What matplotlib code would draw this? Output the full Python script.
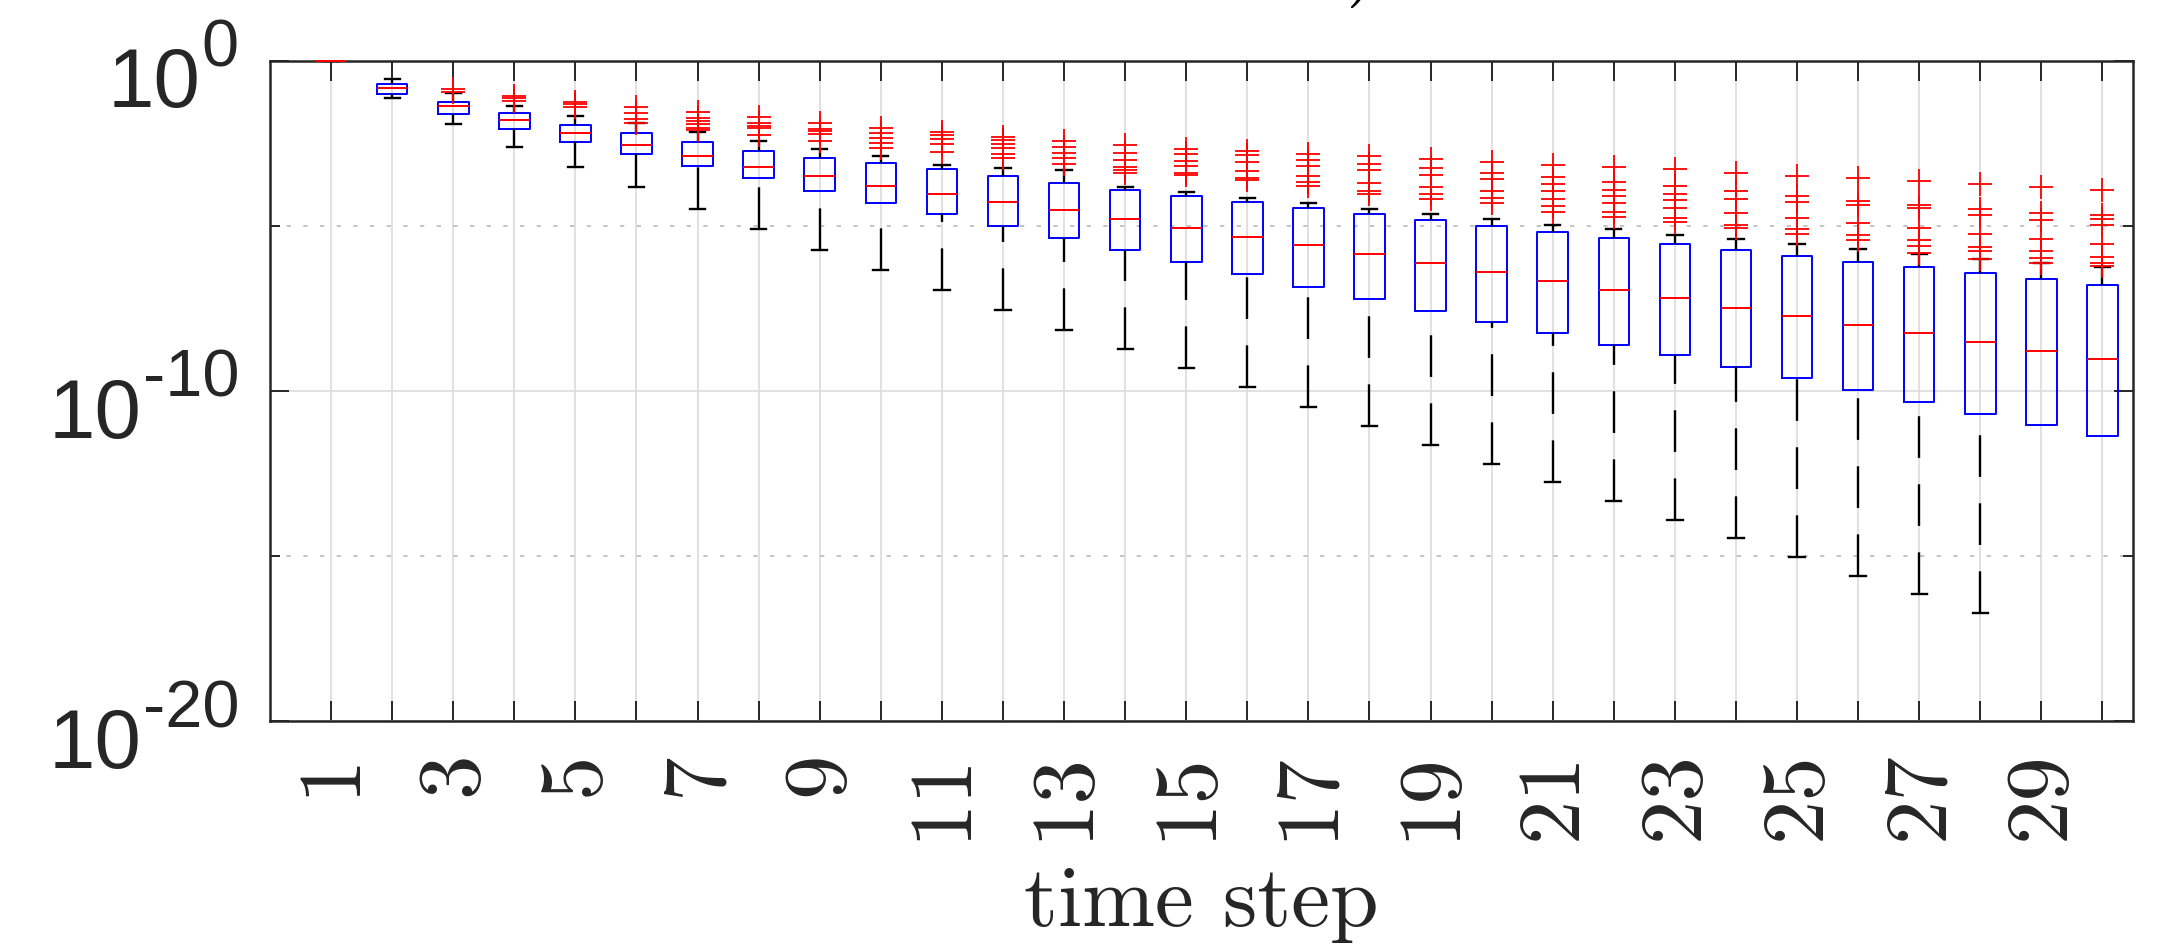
import numpy as np
import matplotlib
matplotlib.use('Agg')
import matplotlib.pyplot as plt
from matplotlib.ticker import FixedLocator, FixedFormatter, NullFormatter
from matplotlib.transforms import offset_copy

plt.rcParams['lines.scale_dashes'] = False

# time steps and box statistics, stored as log10 of the value
steps = list(range(1, 31))
whishi_exp = [0, -0.56, -0.98, -1.39, -1.69, -1.90, -2.18, -2.44, -2.68, -2.90,
              -3.16, -3.24, -3.33, -3.84, -3.99, -4.17, -4.33, -4.50, -4.66, -4.81,
              -4.97, -5.11, -5.27, -5.42, -5.56, -5.70, -5.85, -6.00, -6.14, -6.26]
q3_exp = [0, -0.71, -1.25, -1.60, -1.94, -2.19, -2.48, -2.73, -2.94, -3.11,
          -3.30, -3.51, -3.71, -3.92, -4.10, -4.28, -4.46, -4.64, -4.83, -5.01,
          -5.19, -5.38, -5.56, -5.73, -5.91, -6.10, -6.26, -6.44, -6.62, -6.79]
med_exp = [0, -0.83, -1.38, -1.81, -2.20, -2.56, -2.90, -3.21, -3.51, -3.79,
           -4.05, -4.29, -4.54, -4.80, -5.06, -5.34, -5.60, -5.85, -6.14, -6.41,
           -6.68, -6.94, -7.20, -7.48, -7.74, -8.00, -8.26, -8.52, -8.79, -9.05]
q1_exp = [0, -1.00, -1.63, -2.07, -2.48, -2.83, -3.19, -3.57, -3.95, -4.31,
          -4.66, -5.01, -5.38, -5.73, -6.10, -6.47, -6.85, -7.21, -7.58, -7.92,
          -8.26, -8.60, -8.93, -9.27, -9.61, -9.98, -10.33, -10.69, -11.04, -11.38]
# nan: lowest value is zero, no lower whisker on the log axis
whislo_exp = [0, -1.15, -1.93, -2.61, -3.23, -3.84, -4.49, -5.10, -5.74, -6.35,
              -6.95, -7.55, -8.16, -8.73, -9.32, -9.90, -10.49, -11.07, -11.63, -12.21,
              -12.77, -13.35, -13.90, -14.47, -15.03, -15.61, -16.16, -16.72, np.nan, np.nan]
fliers_exp = [
    [],
    [],
    [-0.85, -0.95],
    [-1.08, -1.15, -1.23],
    [-1.25, -1.32, -1.42],
    [-1.40, -1.60, -1.77, -1.88],
    [-1.57, -1.74, -1.84, -1.93, -2.03, -2.11],
    [-1.72, -1.90, -1.98, -2.05, -2.27],
    [-1.88, -2.07, -2.14, -2.24, -2.44],
    [-2.03, -2.20, -2.36, -2.50, -2.64],
    [-2.16, -2.27, -2.37, -2.52, -2.78],
    [-2.31, -2.41, -2.54, -2.66, -2.82, -2.96],
    [-2.45, -2.62, -2.79, -2.95, -3.13],
    [-2.57, -2.79, -3.02, -3.21, -3.32, -3.41],
    [-2.68, -2.83, -3.03, -3.19, -3.40, -3.48],
    [-2.75, -2.85, -3.06, -3.34, -3.57, -3.63],
    [-2.83, -3.00, -3.20, -3.50, -3.67, -3.80],
    [-2.90, -3.13, -3.33, -3.70, -3.95, -4.03],
    [-2.99, -3.25, -3.48, -3.83, -4.04, -4.20],
    [-3.07, -3.40, -3.58, -3.95, -4.17, -4.33],
    [-3.15, -3.54, -3.75, -3.95, -4.20, -4.42, -4.58],
    [-3.23, -3.67, -3.91, -4.10, -4.30, -4.60, -4.73],
    [-3.30, -3.81, -4.03, -4.22, -4.47, -4.77, -4.90],
    [-3.41, -3.95, -4.18, -4.63, -4.97, -5.08],
    [-3.49, -4.09, -4.29, -4.77, -5.11, -5.25],
    [-3.57, -4.24, -4.39, -4.93, -5.29, -5.44],
    [-3.65, -4.37, -4.47, -5.08, -5.44, -5.61, -5.84],
    [-3.75, -4.51, -4.68, -5.25, -5.64, -5.78, -6.01],
    [-3.83, -4.63, -4.83, -5.40, -5.78, -5.99, -6.14],
    [-3.91, -4.69, -4.79, -4.98, -5.55, -5.94, -6.14, -6.23],
]

xtick_labels = [str(s) if s % 2 == 1 else '' for s in steps]
ytick_vals = [1e-20, 1e-10, 1e0]
ytick_exps = ['-20', '-10', '0']
yminor_vals = [1e-15, 1e-5]

dark = '#262626'

fig = plt.figure(figsize=(21.63, 9.44), dpi=100)
ax = fig.add_axes([270 / 2163, 1 - 721 / 944, 1863 / 2163, 660.5 / 944])

stats = []
for i in range(len(steps)):
    stats.append(dict(med=10 ** med_exp[i], q1=10 ** q1_exp[i], q3=10 ** q3_exp[i],
                      whislo=10 ** whislo_exp[i], whishi=10 ** whishi_exp[i],
                      fliers=10 ** np.array(fliers_exp[i])))

bp = ax.bxp(stats, positions=steps, widths=0.5, capwidths=0.25, manage_ticks=False,
            boxprops=dict(color='#0000ff', lw=1.4),
            medianprops=dict(color='#ff0000', lw=1.4, zorder=3),
            whiskerprops=dict(color='k', lw=1.7, linestyle=(0, (30, 19))),
            capprops=dict(color='k', lw=1.7),
            flierprops=dict(marker='+', markeredgecolor='#ff0000', markersize=17,
                            markeredgewidth=1.3, linestyle='none', zorder=3))
# dashes start at the whisker end, not at the box
for w in bp['whiskers']:
    w.set_ydata(w.get_ydata()[::-1])
for m in bp['medians']:
    m.set_clip_on(False)

ax.set_yscale('log')
ax.set_ylim(1e-20, 1e0)
ax.set_xlim(0, 30.5)

ax.xaxis.set_major_locator(FixedLocator(steps))
ax.xaxis.set_major_formatter(FixedFormatter(xtick_labels))
ax.yaxis.set_major_locator(FixedLocator(ytick_vals))
ax.yaxis.set_major_formatter(NullFormatter())
ax.yaxis.set_minor_locator(FixedLocator(yminor_vals))
ax.yaxis.set_minor_formatter(NullFormatter())

ax.tick_params(axis='x', which='major', direction='in', length=14.4, width=1.4,
               color=dark, top=True, bottom=True, pad=22)
ax.tick_params(axis='y', which='major', direction='in', length=13.7, width=1.4,
               color=dark, left=True, right=True)
ax.tick_params(axis='y', which='minor', direction='in', length=7.2, width=1.4,
               color=dark, left=True, right=True)
for lab in ax.get_xticklabels():
    lab.set_family('cmr10')
    lab.set_fontsize(64)
    lab.set_rotation(90)
    lab.set_color(dark)

ax.grid(True, axis='x', which='major', color='#dcdcdc', lw=1.2)
ax.grid(True, axis='y', which='major', color='#dcdcdc', lw=1.2)
ax.grid(True, axis='y', which='minor', color='#c4c4c4', lw=1.4, linestyle=(0, (3.1, 8.9)))
ax.set_axisbelow(True)

for sp in ax.spines.values():
    sp.set_color(dark)
    sp.set_linewidth(1.8)

# y tick labels as 10 with a raised exponent
exp_trans = offset_copy(ax.get_yaxis_transform(), fig=fig, x=-31, y=-6, units='dots')
for val, e in zip(ytick_vals, ytick_exps):
    t = ax.text(0, val, e, transform=exp_trans, ha='right', va='baseline',
                fontsize=48, family='Liberation Sans', color=dark)
    ax.annotate('10', xy=(0, 0), xycoords=t, xytext=(-1, -27), textcoords='offset pixels',
                ha='right', va='baseline', fontsize=60, family='Liberation Sans', color=dark)

ax.set_xlabel('time step', family='cmr10', fontsize=63, color=dark)
ax.xaxis.set_label_coords(0.5, -(926 - 721) / 660.5)
ax.xaxis.label.set_va('baseline')

# bottom of the clipped title line
fig.text(1345 / 2163, 1 + 14 / 944, ')', family='cmr10', fontsize=63, ha='left', va='baseline')

fig.savefig('out.png', dpi=100)
